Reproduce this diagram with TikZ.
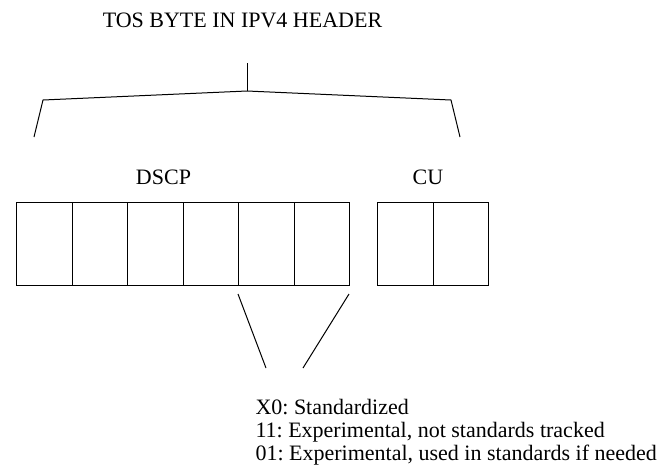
\documentclass[tikz,border=0pt]{standalone}
\usepackage{fontspec}
\setmainfont{Liberation Serif}
\frenchspacing
\begin{document}
\begin{tikzpicture}[x=1pt,y=-1pt,
  line width=1pt,
  lbl/.style={inner sep=0pt,font=\fontsize{22}{26}\selectfont\frenchspacing},
  cell/.style={draw,rectangle,inner sep=0pt,minimum width=55.5pt,minimum height=83pt}]
\useasboundingbox (0,0) rectangle (665,475);
\node[lbl,anchor=base] (title) at (242.5,27) {TOS BYTE IN IPV4 HEADER};
% bracket
\coordinate (top) at (247,63);
\coordinate (apex) at (247,91);
\coordinate (lc) at (43,100);
\coordinate (lb) at (34,137);
\coordinate (rc) at (451,100);
\coordinate (rb) at (460,137);
\draw (top) -- (apex);
\draw (lb) -- (lc) -- (apex) -- (rc) -- (rb);
% labels
\node[lbl,anchor=base] (dscp) at (163.5,184) {DSCP};
\node[lbl,anchor=base] (cu) at (428,184) {CU};
% cells
\foreach \i in {1,...,6}{
  \node[cell,anchor=north west] (d\i) at ({16+55.5*(\i-1)},202) {};
}
\node[cell,anchor=north west] (c1) at (377,202) {};
\node[cell,anchor=north west] (c2) at (432.5,202) {};
% fan lines
\coordinate (fl1) at (238,294);
\coordinate (fl2) at (266,368);
\coordinate (fr1) at (349,294);
\coordinate (fr2) at (303,368);
\draw (fl1) -- (fl2);
\draw (fr1) -- (fr2);
% notes
\node[lbl,anchor=base west] (n1) at (255,414) {X0: Standardized};
\node[lbl,anchor=base west] (n2) at (255,437) {11: Experimental, not standards tracked};
\node[lbl,anchor=base west] (n3) at (255,460) {01: Experimental, used in standards if needed};
\end{tikzpicture}
\end{document}
